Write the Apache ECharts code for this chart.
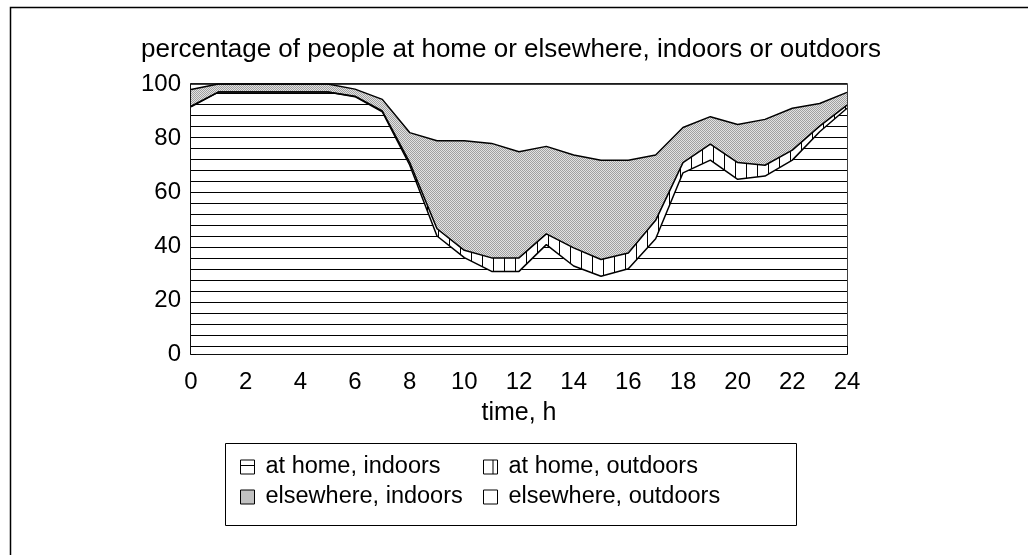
<!DOCTYPE html>
<html>
<head>
<meta charset="utf-8">
<script src="https://cdn.jsdelivr.net/npm/echarts@6/dist/echarts.min.js"></script>
<style>
html,body{margin:0;padding:0;background:#fff;}
#main{width:1028px;height:555px;}
</style>
</head>
<body>
<div id="main"></div>
<script>
// hours of the day
var hours = ['0','1','2','3','4','5','6','7','8','9','10','11','12','13','14','15','16','17','18','19','20','21','22','23','24'];
// percentages, stacked from the bottom
var homeIndoors = [91.5,97,97,97,97,97,95.3,89.7,70,43.7,35.7,30.6,30.6,40.5,32.6,28.8,31.6,42.7,67.1,71.8,64.7,65.9,71.8,82.3,91];
var homeOutdoors = [0.3,0,0,0,0,0,0.2,0.3,1,2.7,2.7,5,5,4,6.7,6.2,5.8,6.8,3.8,5.9,6.2,4,3.7,2.1,1.2];
var elsewhereIndoors = [6.2,3,3,3,3,3,2.6,4.3,11,32.6,40.6,42.4,39.3,32.4,34.4,36.8,34.4,24.2,13,10.2,14.1,17,15.5,8.4,4.7];
var elsewhereOutdoors = [2,0,0,0,0,0,1.9,5.7,18,21,21,22,25.1,23.1,26.3,28.2,28.2,26.3,16.1,12.1,15,13.1,9,7.2,3.1];

var seriesNames = ['at home, indoors','at home, outdoors','elsewhere, indoors','elsewhere, outdoors'];

//填充图案: 横线, 竖线, 灰点
function makePattern(kind){
	var c = document.createElement('canvas');
	c.width = 11; c.height = 11;
	var ctx = c.getContext('2d');
	ctx.fillStyle = '#fff';
	ctx.fillRect(0,0,11,11);
	ctx.fillStyle = '#000';
	if(kind == 'h') ctx.fillRect(0,5,11,1);
	else if(kind == 'v') ctx.fillRect(9,0,1,11);
	return {image: c, repeat: 'repeat'};
}
function makeDots(){
	var c = document.createElement('canvas');
	c.width = 2; c.height = 2;
	var ctx = c.getContext('2d');
	ctx.fillStyle = '#e2e2e2'; ctx.fillRect(0,0,2,2);
	ctx.fillStyle = '#a0a0a0'; ctx.fillRect(0,0,1,1); ctx.fillRect(1,1,1,1);
	return {image: c, repeat: 'repeat'};
}
var fills = [makePattern('h'), makePattern('v'), makeDots(), '#fff'];
var values = [homeIndoors, homeOutdoors, elsewhereIndoors, elsewhereOutdoors];

var series = seriesNames.map(function(name,i){
	return {
		name: name,
		type: 'line',
		stack: 'total',
		symbol: 'none',
		silent: true,
		lineStyle: {color: '#000', width: 1.5},
		itemStyle: {color: fills[i], borderColor: '#000'},
		areaStyle: {color: fills[i], opacity: 1},
		data: values[i]
	};
});

function legendItem(i){
	return {name: seriesNames[i], itemStyle: {color: fills[i], borderColor: '#000', borderWidth: 1}};
}
var legendCommon = {
	orient: 'vertical',
	top: 450,
	icon: 'rect',
	itemWidth: 14,
	itemHeight: 14,
	itemGap: 6,
	selectedMode: false,
	textStyle: {fontFamily: 'Liberation Sans', fontSize: 23.5, color: '#000', lineHeight: 22, padding: [0,0,0,6]}
};

var myChart = echarts.init(document.getElementById('main'));
var option = {
	animation: false,
	backgroundColor: '#fff',
	title: {
		text: 'percentage of people at home or elsewhere, indoors or outdoors',
		left: 136,
		top: 32,
		textStyle: {fontFamily: 'Liberation Sans', fontSize: 26, fontWeight: 'normal', color: '#000'}
	},
	legend: [
		Object.assign({left: 235, data: [legendItem(0), legendItem(2)]}, legendCommon),
		Object.assign({left: 478, data: [legendItem(1), legendItem(3)]}, legendCommon)
	],
	grid: {left: 191, top: 84, width: 656, height: 270, show: true, borderColor: '#000', borderWidth: 1.5, backgroundColor: 'transparent'},
	xAxis: {
		type: 'category',
		data: hours,
		boundaryGap: false,
		name: 'time, h',
		nameLocation: 'middle',
		nameGap: 47,
		nameTextStyle: {fontFamily: 'Liberation Sans', fontSize: 25, color: '#000'},
		axisLine: {lineStyle: {color: '#000', width: 1.5}},
		axisTick: {inside: true, length: 8, interval: 0, lineStyle: {color: '#000'}},
		axisLabel: {fontFamily: 'Liberation Sans', fontSize: 24, color: '#000', margin: 16, interval: 1},
		splitLine: {show: false}
	},
	yAxis: {
		type: 'value',
		min: 0, max: 100, interval: 10,
		axisLine: {show: true, lineStyle: {color: '#000', width: 1.5}},
		axisTick: {show: true, inside: true, length: 5, lineStyle: {color: '#000'}},
		axisLabel: {
			fontFamily: 'Liberation Sans', fontSize: 24, color: '#000', margin: 10,
			formatter: function(v){ return v % 20 == 0 ? String(v) : ''; }
		},
		splitLine: {show: false}
	},
	graphic: [
		{type: 'rect', left: 8, top: 5, shape: {width: 1100, height: 600}, style: {fill: 'none', stroke: '#000', lineWidth: 1.5}, silent: true},
		{type: 'rect', left: 223, top: 441, shape: {width: 571, height: 82}, style: {fill: 'none', stroke: '#000', lineWidth: 1}, silent: true}
	],
	series: series
};
myChart.setOption(option);
</script>
</body>
</html>
